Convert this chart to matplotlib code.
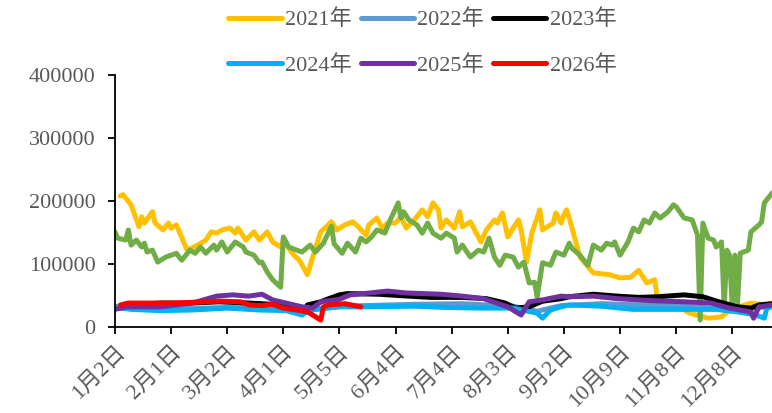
import matplotlib
matplotlib.use("Agg")
import matplotlib.pyplot as plt

plt.rcParams['font.family'] = ['Liberation Serif', 'Noto Sans CJK SC', 'DejaVu Sans']

# trading-day index (0 = 1月2日), one tick every 21 days
tick_labels = ['1月2日', '2月1日', '3月2日', '4月1日', '5月5日', '6月4日',
               '7月4日', '8月3日', '9月2日', '10月9日', '11月8日', '12月8日']

# unlabelled green series
g_days = [0, 1, 4, 5, 6, 8, 10, 11, 12, 14, 16, 19, 23, 24, 25, 28, 30, 32, 34, 37,
          38, 40, 42, 45, 48, 49, 52, 54, 55, 57, 59, 62, 63, 65, 68, 70, 73, 75, 78, 81,
          82, 85, 87, 90, 92, 94, 96, 98, 101, 103, 106, 107, 108, 110, 113, 115, 117, 119, 122, 124,
          127, 128, 130, 133, 136, 138, 140, 142, 144, 146, 149, 151, 153, 155, 157, 158, 160, 163, 165, 168,
          170, 171, 174, 177, 179, 182, 184, 186, 187, 189, 192, 194, 196, 198, 200, 202, 204, 207, 209, 210,
          213, 216, 218, 219, 220, 222, 224, 225, 227, 228, 229, 230, 231, 232, 233, 234, 237, 238, 241, 242,
          243, 246]
g_vals = [151, 141, 138, 154, 130, 138, 127, 133, 119, 122, 103, 111, 117, 111, 106, 122, 117, 127, 117, 130,
          122, 135, 119, 135, 127, 119, 114, 102, 103, 87, 75, 63, 143, 127, 122, 119, 130, 119, 133, 160,
          132, 117, 133, 119, 141, 135, 143, 154, 149, 170, 197, 173, 183, 170, 162, 149, 165, 149, 141, 149,
          141, 119, 130, 111, 122, 119, 141, 111, 98, 114, 111, 95, 103, 70, 71, 48, 102, 98, 119, 114,
          133, 125, 114, 98, 130, 122, 133, 130, 135, 114, 135, 157, 151, 170, 165, 181, 173, 183, 194, 191,
          173, 170, 146, 11, 165, 141, 138, 127, 135, 32, 122, 114, 32, 114, 38, 117, 122, 151, 162, 167,
          197, 213]

y2021_days = [2, 3, 6, 9, 10, 11, 14, 15, 18, 20, 21, 23, 27, 31, 34, 36, 38, 40, 43, 45,
              46, 49, 52, 54, 57, 59, 62, 63, 66, 67, 69, 72, 74, 77, 81, 83, 86, 89, 91, 94,
              95, 98, 100, 102, 105, 107, 109, 112, 115, 117, 119, 121, 122, 124, 127, 129, 130, 133, 136, 137,
              139, 142, 143, 145, 147, 149, 151, 152, 154, 156, 159, 160, 164, 165, 167, 168, 169, 170, 174, 179,
              185, 189, 193, 196, 199, 202, 203, 210, 215, 222, 227, 230, 238, 243, 246]
y2021 = [208, 210, 194, 159, 175, 165, 183, 165, 154, 165, 157, 162, 122, 130, 138, 151, 149, 154, 157, 149,
         157, 138, 151, 138, 151, 135, 127, 138, 119, 114, 106, 83, 111, 151, 167, 154, 162, 167, 159, 146,
         162, 173, 157, 165, 165, 175, 157, 170, 186, 175, 197, 186, 157, 170, 157, 183, 159, 167, 143, 135,
         154, 170, 165, 181, 143, 157, 170, 154, 103, 149, 186, 154, 165, 181, 165, 178, 186, 173, 111, 86,
         83, 78, 79, 90, 70, 75, 46, 35, 22, 14, 16, 27, 38, 35, 38]

y2022_days = [0, 17, 42, 54, 69, 84, 112, 130, 149, 158, 167, 182, 213, 233, 246]
y2022 = [30, 28, 31, 30, 25, 33, 36, 37, 33, 25, 34, 37, 33, 27, 33]

y2023_days = [0, 4, 9, 17, 28, 39, 50, 63, 69, 71, 72, 77, 80, 84, 87, 99, 106, 118, 130, 139,
              146, 150, 155, 160, 167, 170, 179, 188, 196, 203, 213, 220, 226, 233, 238, 241, 246]
y2023 = [32, 30, 36, 38, 38, 40, 38, 35, 25, 27, 35, 40, 45, 51, 53, 52, 50, 47, 47, 45,
         38, 30, 32, 41, 45, 48, 52, 49, 47, 48, 51, 48, 40, 32, 30, 35, 37]

y2024_days = [0, 6, 17, 29, 42, 54, 64, 70, 73, 84, 93, 112, 124, 137, 149, 158, 160, 163, 167, 170,
              182, 194, 213, 225, 233, 240, 243, 244, 246]
y2024 = [32, 28, 26, 27, 30, 27, 26, 19, 27, 32, 32, 33, 31, 30, 30, 22, 14, 27, 32, 35,
         33, 28, 28, 28, 24, 19, 14, 30, 32]

y2025_days = [0, 4, 17, 29, 38, 44, 50, 55, 59, 64, 70, 74, 77, 84, 88, 93, 102, 109, 122, 130,
              138, 147, 152, 155, 160, 167, 170, 179, 188, 200, 213, 223, 230, 238, 239, 241, 246]
y2025 = [28, 32, 32, 38, 49, 51, 49, 52, 43, 38, 32, 30, 40, 44, 51, 53, 57, 54, 52, 49,
         45, 32, 19, 40, 43, 49, 48, 49, 45, 42, 40, 38, 30, 24, 14, 32, 35]

y2026_days = [2, 5, 23, 39, 47, 50, 55, 59, 63, 68, 72, 74, 77, 78, 80, 86, 92]
y2026 = [35, 38, 38, 41, 40, 35, 34, 36, 30, 27, 24, 19, 11, 32, 35, 37, 32]

fig = plt.figure(figsize=(7.72, 4.13), dpi=100)
ax = fig.add_axes([115 / 772, 86 / 413, 668 / 772, 252 / 413])

kw = dict(lw=3.6, solid_capstyle='round', solid_joinstyle='round')
l21, = ax.plot(y2021_days, [v * 1000 for v in y2021], color='#FFC000', label='2021年', **kw)
ax.plot(g_days, [v * 1000 for v in g_vals], color='#70AD47', label='_nolegend_', **kw)
l22, = ax.plot(y2022_days, [v * 1000 for v in y2022], color='#5B9BD5', label='2022年', **kw)
l23, = ax.plot(y2023_days, [v * 1000 for v in y2023], color='#000000', label='2023年', **kw)
l24, = ax.plot(y2024_days, [v * 1000 for v in y2024], color='#00B0F0', label='2024年', **kw)
l25, = ax.plot(y2025_days, [v * 1000 for v in y2025], color='#7030A0', label='2025年', **kw)
l26, = ax.plot(y2026_days, [v * 1000 for v in y2026], color='#FF0000', label='2026年', **kw)

ax.set_xlim(0, 250)
ax.set_ylim(0, 400000)
ax.set_yticks(range(0, 400001, 100000))
ax.set_xticks([21 * i for i in range(len(tick_labels))])
ax.set_xticklabels(tick_labels, rotation=45, ha='right', rotation_mode='anchor')

for s in ['top', 'right']:
    ax.spines[s].set_visible(False)
for s in ['left', 'bottom']:
    ax.spines[s].set_linewidth(1.3)
ax.tick_params(axis='both', direction='out', length=5, width=1.3,
               labelsize=16, labelcolor='#595959')
ax.tick_params(axis='y', pad=9)
ax.tick_params(axis='x', pad=6)

handles = [l21, l24, l22, l25, l23, l26]
fig.legend(handles=handles, labels=[h.get_label() for h in handles],
           ncol=3, loc='upper center', bbox_to_anchor=(0.547, 1.025),
           frameon=False, fontsize=16, handlelength=2.4, handletextpad=0.15,
           columnspacing=0.4, labelspacing=1.1, labelcolor='#595959')

fig.savefig('out.png', dpi=100)
